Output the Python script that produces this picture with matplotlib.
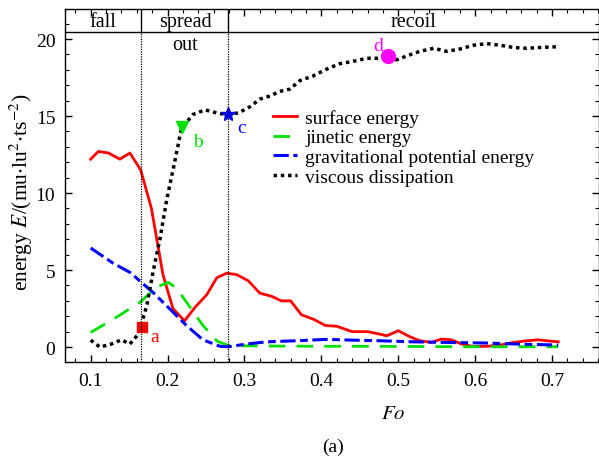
import numpy as np
import matplotlib
matplotlib.use("Agg")
import matplotlib.pyplot as plt
from matplotlib.ticker import MultipleLocator

plt.rcParams["font.family"] = "Liberation Serif"
plt.rcParams["mathtext.fontset"] = "stix"

# energy curves vs Fourier number
fo_surf = [0.100, 0.110, 0.123, 0.138, 0.151, 0.165, 0.179, 0.194, 0.207, 0.222,
           0.236, 0.251, 0.264, 0.277, 0.290, 0.305, 0.320, 0.335, 0.348, 0.360,
           0.374, 0.390, 0.405, 0.420, 0.440, 0.460, 0.476, 0.485, 0.500, 0.515,
           0.528, 0.543, 0.556, 0.569, 0.582, 0.597, 0.615, 0.632, 0.650, 0.667,
           0.682, 0.697, 0.708]
e_surf = [12.2, 12.7, 12.6, 12.2, 12.6, 11.5, 9.0, 4.7, 2.5, 1.7,
          2.6, 3.4, 4.5, 4.8, 4.7, 4.3, 3.5, 3.3, 3.0, 3.0,
          2.1, 1.8, 1.4, 1.35, 1.0, 1.0, 0.84, 0.73, 1.06, 0.67,
          0.41, 0.30, 0.52, 0.47, 0.20, 0.04, 0.05, 0.13, 0.30, 0.41,
          0.47, 0.39, 0.34]

fo_kin = [0.100, 0.129, 0.164, 0.186, 0.201, 0.212, 0.229, 0.246, 0.264, 0.277,
          0.300, 0.350, 0.400, 0.450, 0.500, 0.550, 0.600, 0.650, 0.708]
e_kin = [0.95, 1.8, 2.9, 3.9, 4.2, 3.8, 2.6, 1.4, 0.4, 0.13,
         0.08, 0.06, 0.05, 0.05, 0.04, 0.03, 0.02, 0.02, 0.02]

fo_grav = [0.100, 0.129, 0.151, 0.166, 0.181, 0.203, 0.225, 0.246, 0.268, 0.279,
           0.303, 0.329, 0.368, 0.407, 0.440, 0.476, 0.520, 0.563, 0.615, 0.658,
           0.708]
e_grav = [6.43, 5.45, 4.85, 4.2, 3.55, 2.47, 1.38, 0.47, 0.05, 0.02,
          0.20, 0.34, 0.41, 0.50, 0.45, 0.41, 0.34, 0.30, 0.26, 0.19,
          0.13]

fo_visc = [0.100, 0.112, 0.127, 0.140, 0.151, 0.162, 0.173, 0.181, 0.190, 0.199,
           0.210, 0.218, 0.233, 0.249, 0.264, 0.277, 0.292, 0.307, 0.320, 0.333,
           0.346, 0.359, 0.372, 0.389, 0.407, 0.424, 0.441, 0.459, 0.476, 0.486,
           0.498, 0.511, 0.528, 0.546, 0.563, 0.580, 0.598, 0.615, 0.632, 0.650,
           0.667, 0.684, 0.708]
e_visc = [0.45, 0.0, 0.2, 0.47, 0.2, 0.84, 2.7, 4.85, 7.0, 9.6,
          12.2, 14.2, 15.1, 15.4, 15.2, 15.1, 15.2, 15.6, 16.1, 16.3,
          16.6, 16.75, 17.3, 17.6, 18.05, 18.4, 18.55, 18.75, 18.75, 18.9,
          18.65, 18.9, 19.2, 19.4, 19.2, 19.35, 19.6, 19.7, 19.6, 19.45,
          19.4, 19.45, 19.5]

# marked states a-d
pt_a = (0.167, 1.3)
pt_b = (0.219, 14.3)
pt_c = (0.278, 15.1)
pt_d = (0.486, 18.9)

# stage boundaries
fo_bounds = [0.166, 0.278]
strip_y = 20.45
stage_labels = ["fall", "spread", "recoil"]
stage_x = [0.116, 0.2226, 0.520]

W, H = 599, 464
fig = plt.figure(figsize=(W / 100, H / 100), dpi=100)
ax = fig.add_axes([65 / W, (H - 363) / H, (W - 65) / W, 353 / H])

ax.plot(fo_surf, e_surf, color="#ff0000", lw=2.0, label="surface energy")
ax.plot(fo_kin, e_kin, color="#00e000", lw=2.0, dashes=(6, 4), label="jinetic energy")
ax.plot(fo_grav, e_grav, color="#0000ff", lw=2.2, dashes=(5, 1.5, 2.5, 1.5),
        label="gravitational potential energy")
ax.plot(fo_visc, e_visc, color="black", lw=2.5, dashes=(1, 1.1), label="viscous dissipation")

ax.plot(*pt_a, marker="s", color="#ff0000", ms=7, ls="none")
ax.plot(*pt_b, marker="v", color="#00e000", ms=9, ls="none")
ax.plot(*pt_c, marker="*", color="#0000ff", ms=10, ls="none")
ax.plot(*pt_d, marker="o", color="#ff00ff", ms=10, ls="none")
ax.text(pt_a[0] + 0.010, pt_a[1] - 0.6, "a", color="#ff0000", fontsize=14, va="center")
ax.text(pt_b[0] + 0.014, pt_b[1] - 0.95, "b", color="#00e000", fontsize=14, va="center")
ax.text(pt_c[0] + 0.012, pt_c[1] - 0.85, "c", color="#0000ff", fontsize=14, va="center")
ax.text(pt_d[0] - 0.019, pt_d[1] + 0.65, "d", color="#ff00ff", fontsize=14, va="center")

# stage strip along the top
ax.axhline(strip_y, color="black", lw=1.0)
for xb in fo_bounds:
    ax.plot([xb, xb], [-1.0, strip_y], color="black", lw=0.9, dashes=(1, 1))
    ax.plot([xb, xb], [strip_y, 22.0], color="black", lw=1.0)
for lab, xs in zip(stage_labels, stage_x):
    ax.text(xs, 21.12, lab, ha="center", va="center", fontsize=14.5)
ax.text(stage_x[1], 19.62, "out", ha="center", va="center", fontsize=14.5)

ax.set_xlim(0.0666, 0.761)
ax.set_ylim(-0.97, 21.95)
ax.xaxis.set_major_locator(MultipleLocator(0.1))
ax.xaxis.set_minor_locator(MultipleLocator(0.02))
ax.yaxis.set_major_locator(MultipleLocator(5))
ax.yaxis.set_minor_locator(MultipleLocator(1))
ax.set_yticks([0, 5, 10, 15, 20])
ax.tick_params(which="both", direction="in", top=True, right=True, labelsize=14)
ax.tick_params(which="major", length=5, width=1, pad=7)
ax.tick_params(which="minor", length=3, width=0.8)
for sp in ax.spines.values():
    sp.set_linewidth(1.0)

ax.legend(loc="upper left", bbox_to_anchor=((273 - 65) / (W - 65), (363 - 110) / 353),
          frameon=False, fontsize=14, handlelength=1.25, handletextpad=0.4,
          labelspacing=0.1, borderpad=0, borderaxespad=0)

fig.text(21 / W, 1 - 192 / H, r"energy $E$/(mu$\cdot$lu$^2$$\cdot$ts$^{-2}$)",
         rotation=90, ha="center", va="center", fontsize=15.5)
fig.text(393 / W, 1 - 415 / H, r"$Fo$", ha="center", va="center", fontsize=15)
fig.text(333 / W, 1 - 447 / H, "(a)", ha="center", va="center", fontsize=14)

fig.savefig("out.png", dpi=100)
